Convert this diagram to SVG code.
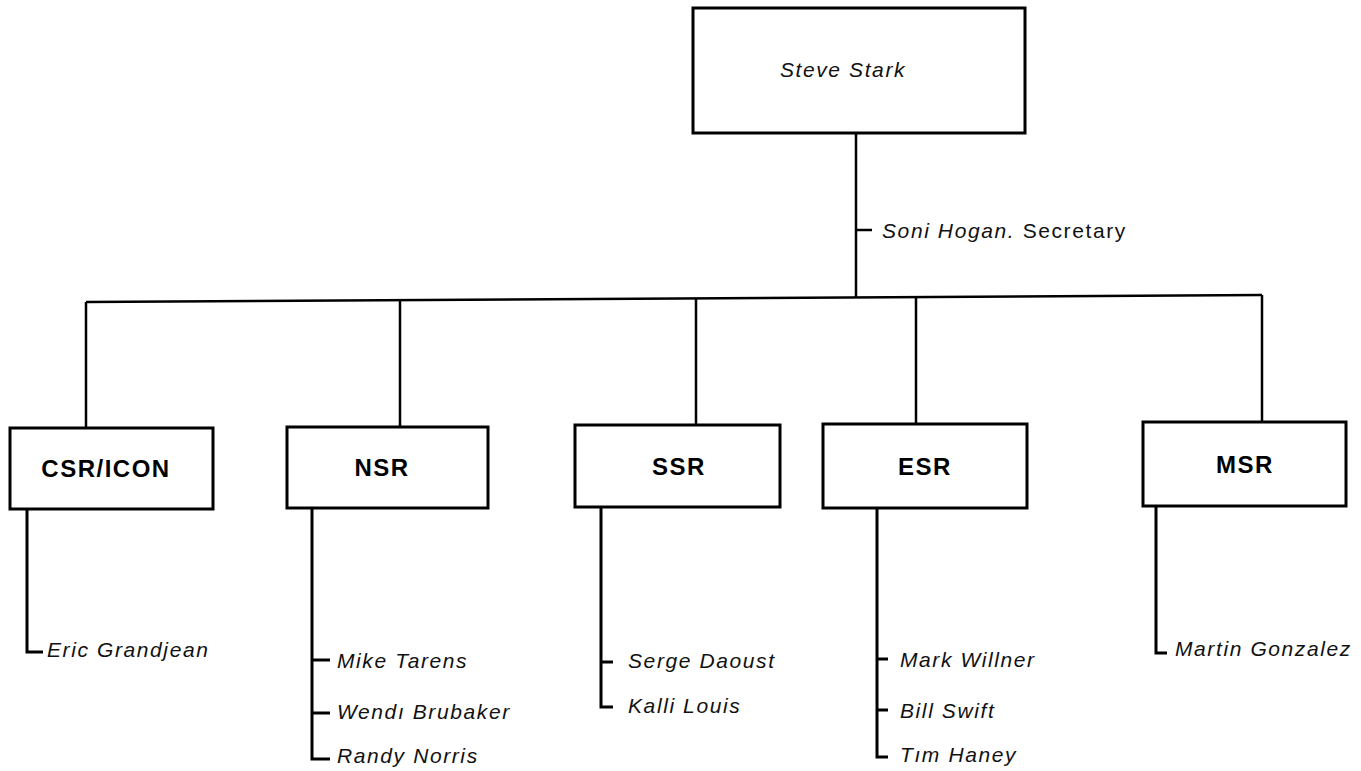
<svg xmlns="http://www.w3.org/2000/svg" width="1361" height="771" viewBox="0 0 1361 771">
<style>
.box{fill:#fff;stroke:#000;stroke-width:3}
.up{fill:none;stroke:#000;stroke-width:2.5}
.low{fill:none;stroke:#000;stroke-width:3}
.title{font-family:"Liberation Sans",Arial,Helvetica,sans-serif;font-weight:bold;font-size:24px;letter-spacing:1.5px;text-anchor:middle;fill:#000}
.name{font-family:"Liberation Sans",Arial,Helvetica,sans-serif;font-style:italic;font-size:21px;letter-spacing:1.6px;fill:#111}
.up-txt{font-style:normal}
</style>
<rect width="1361" height="771" fill="#fff"/>
<g id="connectors">
<line class="up" x1="856" y1="133" x2="856" y2="297.4"/>
<line class="up" x1="856" y1="230" x2="872" y2="230"/>
<line class="up" x1="86" y1="302" x2="1262" y2="295"/>
<line class="up" x1="86" y1="302" x2="86" y2="428"/>
<line class="up" x1="400" y1="300.1" x2="400" y2="427"/>
<line class="up" x1="696" y1="298.4" x2="696" y2="425"/>
<line class="up" x1="916" y1="297.1" x2="916" y2="424"/>
<line class="up" x1="1262" y1="295" x2="1262" y2="422"/>
<polyline class="low" points="27,509 27,652 43,652"/>
<polyline class="low" points="312,508 312,759 330,759"/>
<line class="low" x1="312" y1="660" x2="330" y2="660"/>
<line class="low" x1="312" y1="713" x2="330" y2="713"/>
<polyline class="low" points="601,507 601,707 613,707"/>
<line class="low" x1="601" y1="662" x2="613" y2="662"/>
<polyline class="low" points="877,508 877,757 888,757"/>
<line class="low" x1="877" y1="659" x2="888" y2="659"/>
<line class="low" x1="877" y1="710" x2="888" y2="710"/>
<polyline class="low" points="1156,506 1156,653 1167,653"/>
</g>
<g id="steve-stark">
<rect class="box" x="693" y="8" width="332" height="125"/>
<text class="name" x="843" y="77" text-anchor="middle">Steve Stark</text>
</g>
<g id="secretary">
<text class="name" x="882" y="238">Soni Hogan. <tspan class="up-txt">Secretary</tspan></text>
</g>
<g id="csr-icon">
<rect class="box" x="10" y="428" width="203" height="81"/>
<text class="title" x="106" y="477">CSR/ICON</text>
</g>
<g id="nsr">
<rect class="box" x="287" y="427" width="201" height="81"/>
<text class="title" x="382" y="476">NSR</text>
</g>
<g id="ssr">
<rect class="box" x="575" y="425" width="205" height="82"/>
<text class="title" x="679" y="475">SSR</text>
</g>
<g id="esr">
<rect class="box" x="823" y="424" width="204" height="84"/>
<text class="title" x="925" y="475">ESR</text>
</g>
<g id="msr">
<rect class="box" x="1143" y="422" width="203" height="84"/>
<text class="title" x="1245" y="473">MSR</text>
</g>
<g id="csr-staff">
<text class="name" x="47" y="657">Eric Grandjean</text>
</g>
<g id="nsr-staff">
<text class="name" x="337" y="668">Mike Tarens</text>
<text class="name" x="337" y="719">Wendı Brubaker</text>
<text class="name" x="337" y="763">Randy Norris</text>
</g>
<g id="ssr-staff">
<text class="name" x="628" y="668">Serge Daoust</text>
<text class="name" x="628" y="713">Kalli Louis</text>
</g>
<g id="esr-staff">
<text class="name" x="900" y="667">Mark Willner</text>
<text class="name" x="900" y="718">Bill Swift</text>
<text class="name" x="900" y="762">Tım Haney</text>
</g>
<g id="msr-staff">
<text class="name" x="1175" y="656">Martin Gonzalez</text>
</g>
</svg>
